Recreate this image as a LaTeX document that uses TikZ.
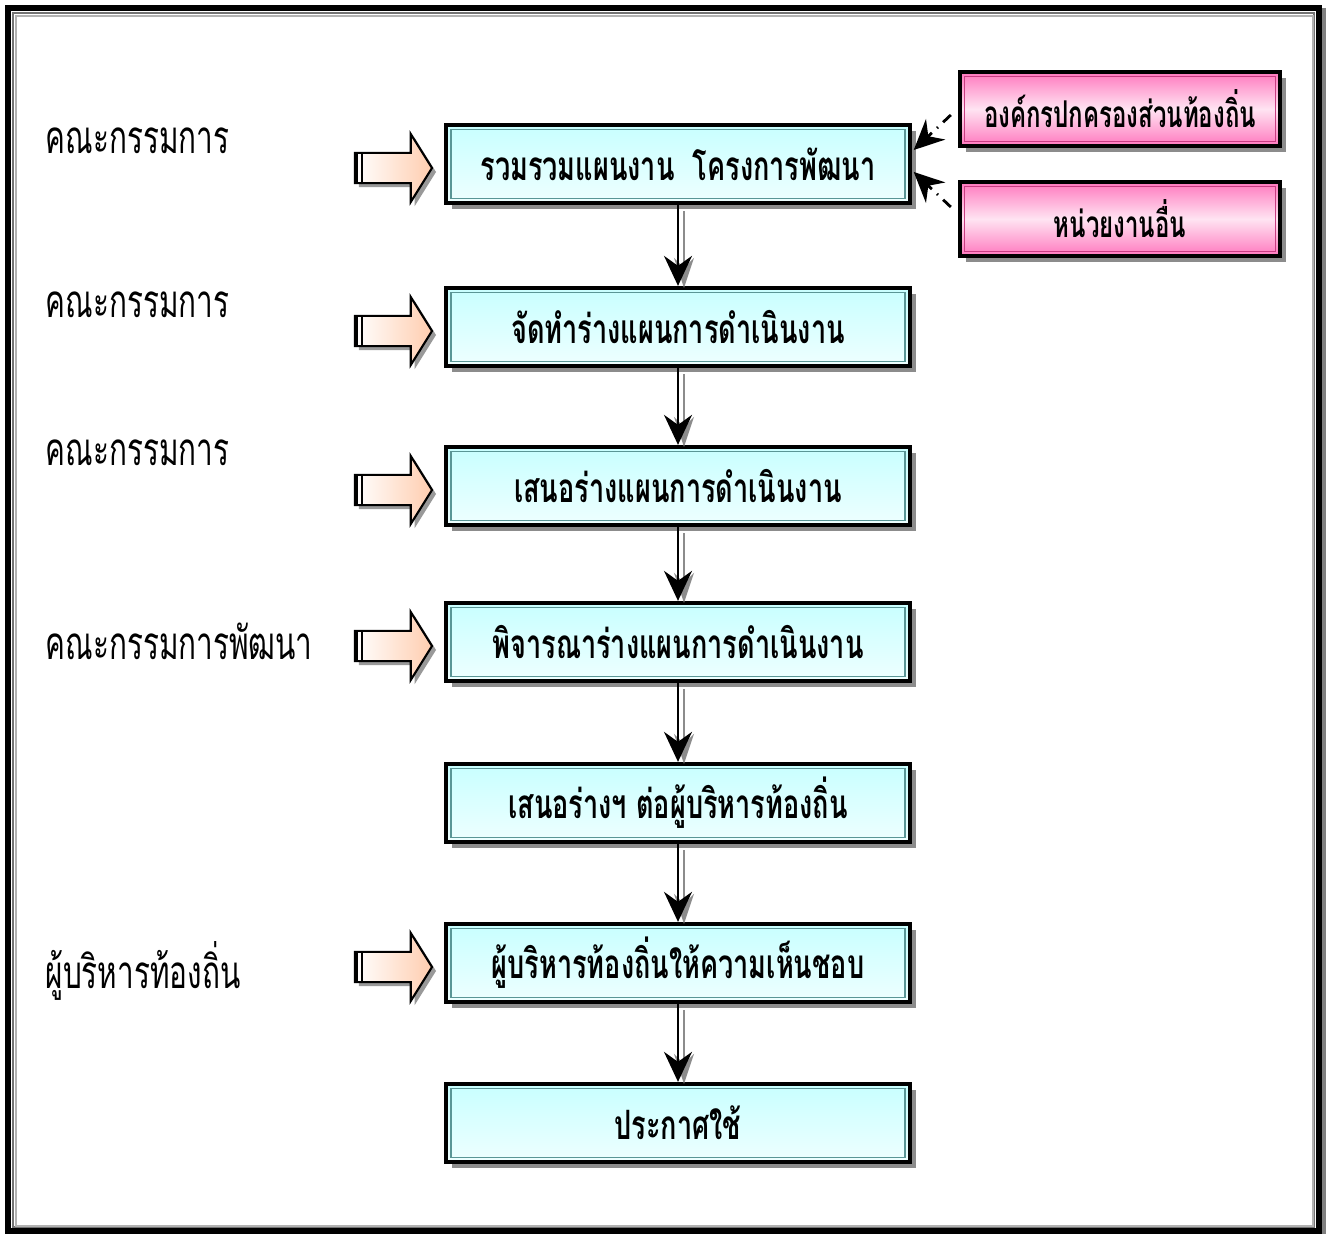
\documentclass[tikz,border=0pt]{standalone}
\usepackage{fontspec}
\setmainfont[Script=Thai]{Loma}
\newfontfamily\stepfont[Script=Thai,FakeStretch=0.67]{Loma}
\newfontfamily\orgfont[Script=Thai,FakeStretch=0.65]{Loma}
\newfontfamily\labfont[Script=Thai,FakeStretch=0.65]{Loma}
\usepackage{tikz}
\usetikzlibrary{shapes,arrows,positioning,calc,shadows,arrows.meta}

\definecolor{boxtop}{RGB}{200,255,255}
\definecolor{boxbot}{RGB}{238,255,255}
\definecolor{boxedge}{RGB}{90,150,150}
\definecolor{pinkdark}{RGB}{255,120,190}
\definecolor{pinklight}{RGB}{255,228,242}
\definecolor{pinkedge}{RGB}{200,60,130}
\definecolor{peach}{RGB}{255,205,175}

\tikzset{
  stepbox/.style={draw=black, line width=1.2pt, minimum width=4.63cm, minimum height=0.78cm,
    top color=boxtop, bottom color=boxbot,
    general shadow={fill=black!45, shadow xshift=0.06cm, shadow yshift=-0.06cm},
    path picture={\draw[boxedge, line width=0.5pt]
      ([shift={(1.3pt,-1.3pt)}]path picture bounding box.north west) rectangle
      ([shift={(-1.3pt,1.3pt)}]path picture bounding box.south east);},
    font=\stepfont\bfseries\fontsize{11.5}{13}\selectfont},
  orgbox/.style={draw=black, line width=1.2pt, minimum width=3.2cm, minimum height=0.74cm,
    top color=pinkdark, bottom color=pinkdark, middle color=pinklight,
    general shadow={fill=black!45, shadow xshift=0.06cm, shadow yshift=-0.06cm},
    path picture={\draw[pinkedge, line width=0.5pt]
      ([shift={(1.3pt,-1.3pt)}]path picture bounding box.north west) rectangle
      ([shift={(-1.3pt,1.3pt)}]path picture bounding box.south east);},
    font=\orgfont\bfseries\fontsize{10.5}{12}\selectfont},
  inarrow/.style={single arrow, draw=black, line width=0.6pt, inner sep=0.14cm,
    single arrow head extend=0.19cm, single arrow tip angle=116, minimum height=0.77cm,
    left color=white, right color=peach,
    general shadow={fill=black!40, shadow xshift=0.04cm, shadow yshift=-0.04cm}},
  lab/.style={anchor=west, inner sep=0pt, font=\labfont\fontsize{13}{15}\selectfont},
  flow/.style={line width=0.6pt, -{Stealth[length=0.3cm, width=0.28cm, inset=0.1cm]}},
  flowshadow/.style={black!45, line width=0.6pt, -{Stealth[length=0.3cm, width=0.2cm, inset=0.1cm]}},
  feed/.style={dashdotted, line width=0.8pt, -{Stealth[length=0.3cm, width=0.28cm, inset=0.1cm]}}
}

\begin{document}
\begin{tikzpicture}[x=0.01cm, y=-0.01cm]
  \useasboundingbox (0,0) rectangle (1333,1234);
  % frame
  \draw[black!50, line width=1.2pt] (1324,8) -- (1324,1234);
  \draw[line width=1.6pt] (8,8) rectangle (1319,1231);
  \draw[black!55, line width=0.4pt] (13,13) rectangle (1314,1227);
  \draw[black!30, line width=0.5pt] (16,16) rectangle (1313,1226);

  % steps
  \node[stepbox] (s1) at (678,164) {รวมรวมแผนงาน\ \ โครงการพัฒนา};
  \node[stepbox] (s2) at (678,327) {จัดทำร่างแผนการดำเนินงาน};
  \node[stepbox] (s3) at (678,486) {เสนอร่างแผนการดำเนินงาน};
  \node[stepbox] (s4) at (678,642) {พิจารณาร่างแผนการดำเนินงาน};
  \node[stepbox] (s5) at (678,803) {เสนอร่างฯ ต่อผู้บริหารท้องถิ่น};
  \node[stepbox] (s6) at (678,963) {ผู้บริหารท้องถิ่นให้ความเห็นชอบ};
  \node[stepbox] (s7) at (678,1123) {ประกาศใช้};

  % other sources
  \node[orgbox] (o1) at (1120,109) {องค์กรปกครองส่วนท้องถิ่น};
  \node[orgbox] (o2) at (1120,219) {หน่วยงานอื่น};
  \draw[feed] ([shift={(-0.07cm,-0.06cm)}]o1.west) -- ([shift={(0.02cm,0.14cm)}]s1.east);
  \draw[feed] ([shift={(-0.07cm,0.12cm)}]o2.west) -- ([shift={(0.02cm,-0.08cm)}]s1.east);

  % flow down
  \foreach \a/\b in {s1/s2, s2/s3, s3/s4, s4/s5, s5/s6, s6/s7} {
    \draw[flowshadow] ([shift={(0.06cm,-0.06cm)}]\a.south) -- ([shift={(0.06cm,-0.02cm)}]\b.north);
    \draw[flow] (\a.south) -- (\b.north);
  }

  % who does it
  \node[lab] (l1) at (45,141) {คณะกรรมการ};
  \node[lab] (l2) at (45,305) {คณะกรรมการ};
  \node[lab] (l3) at (45,453) {คณะกรรมการ};
  \node[lab] (l4) at (45,641) {คณะกรรมการพัฒนา};
  \node[lab] (l6) at (45,971) {ผู้บริหารท้องถิ่น};

  \foreach \s in {s1, s2, s3, s4, s6} {
    \node[inarrow, left=0.11cm of \s, yshift=-0.04cm] (in\s) {};
    \foreach \dx in {0.03, 0.08}
      \draw[line width=0.6pt] ([xshift=\dx cm]in\s.before tail) -- ([xshift=\dx cm]in\s.after tail);
  }
\end{tikzpicture}
\end{document}
